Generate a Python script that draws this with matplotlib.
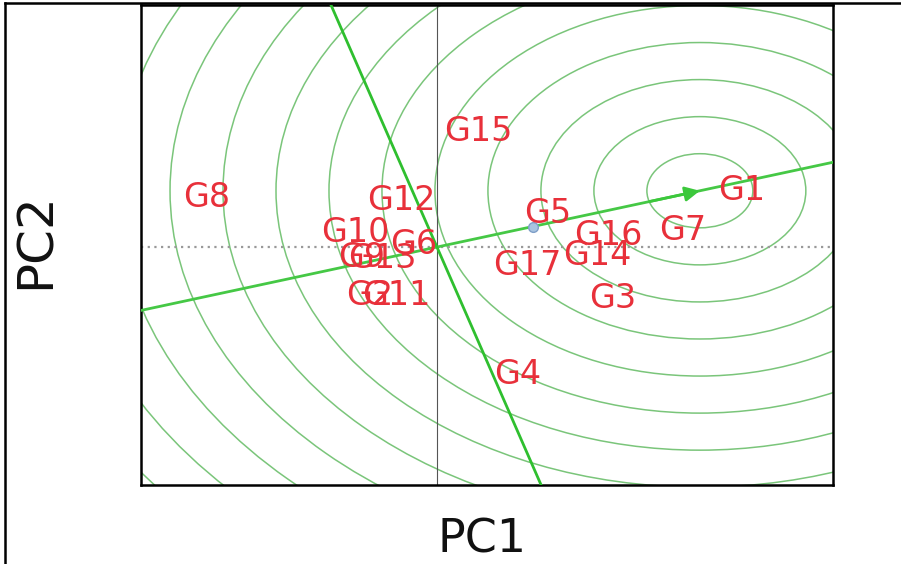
import numpy as np
import matplotlib
matplotlib.use("Agg")
import matplotlib.pyplot as plt
from matplotlib.patches import Circle
from matplotlib.lines import Line2D

# genotype scores on the first two principal components
genotypes = ["G1", "G15", "G8", "G12", "G5", "G10", "G6", "G9", "G13",
             "G2", "G11", "G17", "G14", "G16", "G7", "G3", "G4"]
pc1 = [2.133, 0.287, -1.608, -0.252, 0.776, -0.573, -0.161, -0.524, -0.385,
       -0.469, -0.287, 0.629, 1.119, 1.196, 1.720, 1.231, 0.566]
pc2 = [0.57, 1.16, 0.50, 0.47, 0.34, 0.15, 0.03, -0.10, -0.11,
       -0.48, -0.48, -0.18, -0.08, 0.12, 0.17, -0.51, -1.27]

# average environment marker and ideal genotype
mean_env = (0.671, 0.20)
ideal = (1.839, 0.563)
ring_step = 0.3706
n_rings = 14

xlim = (-2.07, 2.77)
ylim = (-2.38, 2.42)

fig = plt.figure(figsize=(9.01, 5.64), dpi=100)
ax = fig.add_axes([0.1565, 0.140, 0.768, 0.851])
ax.set_xlim(*xlim)
ax.set_ylim(*ylim)

# concentric rings around the ideal genotype
for k in range(1, n_rings + 1):
    ax.add_patch(Circle(ideal, ring_step * k, fill=False, ec="#6cbf6c",
                        lw=1.1, alpha=0.9, zorder=1))

# reference axes
ax.axvline(0, color="#555555", lw=0.8, zorder=2)
ax.axhline(0, color="#999999", lw=1.6, ls=(0, (1, 2)), zorder=2)

# average environment axis and its perpendicular
slope = ideal[1] / ideal[0]
xs = np.array(xlim)
ax.plot(xs, slope * xs, color="#45c845", lw=2, zorder=3)
ys = np.array(ylim)
ax.plot(-slope * ys, ys, color="#2fbf2f", lw=2, zorder=3)
ax.annotate("", xy=ideal, xytext=(ideal[0] - 0.35, ideal[1] - 0.35 * slope),
            arrowprops=dict(arrowstyle="-|>", color="#3cc83c", lw=2,
                            mutation_scale=22, shrinkA=0, shrinkB=0), zorder=4)

ax.plot(*mean_env, "o", ms=7, mfc="#a8c4e0", mec="#7f9fc8", zorder=4)

for name, x, y in zip(genotypes, pc1, pc2):
    ax.text(x, y, name, color="#e8303a", fontsize=24, ha="center",
            va="center", family="DejaVu Sans", zorder=5)

ax.set_xticks([])
ax.set_yticks([])
for sp in ax.spines.values():
    sp.set_linewidth(1.8)
    sp.set_color("black")

fig.text(0.535, 0.02, "PC1", fontsize=33, ha="center", va="baseline",
         color="#111111")
fig.text(0.040, 0.574, "PC2", fontsize=36, ha="center", va="center",
         rotation=90, color="#111111")

# outer frame
fig.add_artist(Line2D([0.005, 0.005], [0, 0.995], transform=fig.transFigure,
                      color="black", lw=1.8))
fig.add_artist(Line2D([0.005, 1.0], [0.995, 0.995], transform=fig.transFigure,
                      color="black", lw=1.8))

fig.savefig("out.png", dpi=100)
